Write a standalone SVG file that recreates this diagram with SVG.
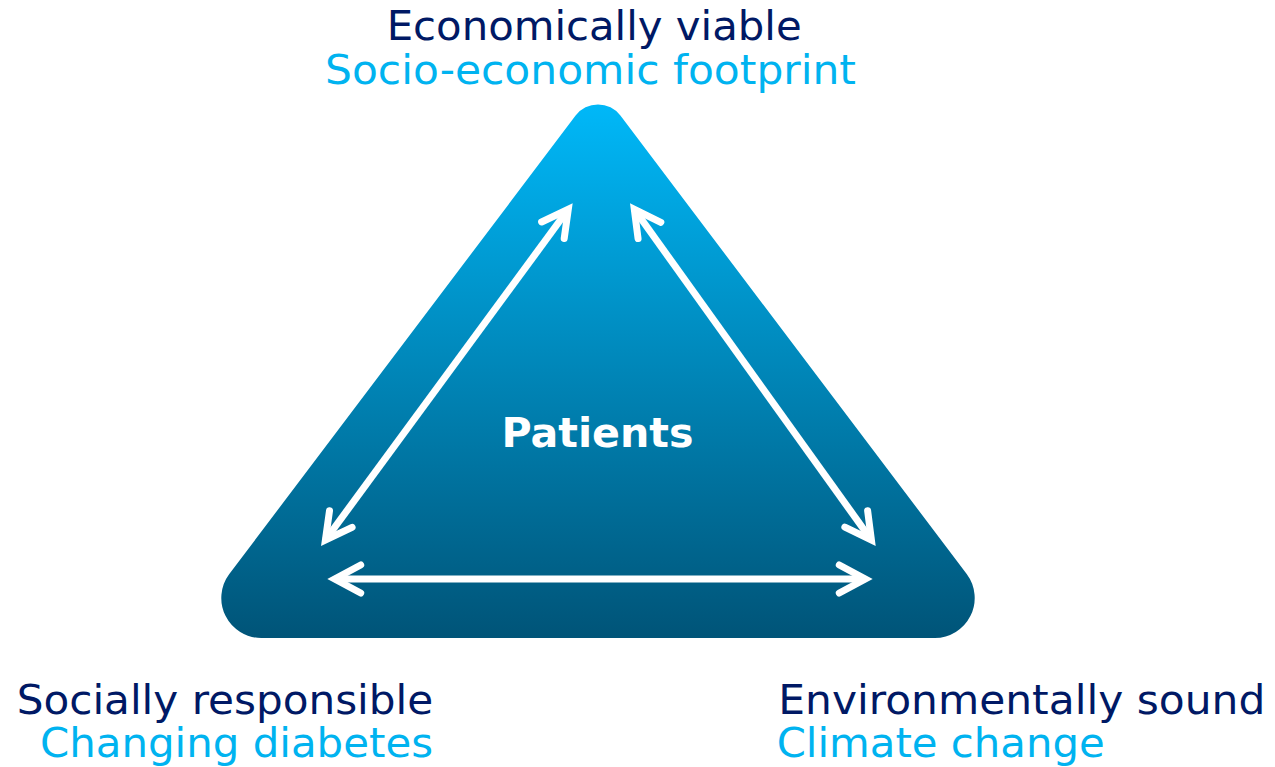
<svg xmlns="http://www.w3.org/2000/svg" width="1275" height="767" viewBox="0 0 1275 767">
<style>
.t{font-family:"DejaVu Sans",Verdana,sans-serif;font-size:40px}
.dark{fill:#001965}
.light{fill:#00B3F0}
.arrow{stroke:#FFFFFF;stroke-width:7;fill:none}
.lbl{font-family:"DejaVu Sans",Verdana,sans-serif;font-size:40px;font-weight:bold;fill:#FFFFFF}
</style>
<defs>
<linearGradient id="tri" x1="0" y1="104" x2="0" y2="638" gradientUnits="userSpaceOnUse">
<stop offset="0" stop-color="#00B8F8"/>
<stop offset="1" stop-color="#005478"/>
</linearGradient>
<marker id="head" markerUnits="userSpaceOnUse" viewBox="-40 -25 55 50" markerWidth="55" markerHeight="50" refX="0" refY="0" orient="auto-start-reverse" overflow="visible">
<path d="M -26 -14 L 0 0 L -26 14" stroke="#FFFFFF" stroke-width="7" fill="none" stroke-linecap="round" stroke-linejoin="miter"/>
</marker>
</defs>
<g id="triangle">
<path d="M 261.2 638 L 934.8 638 A 40 40 0 0 0 966.7 574 L 620.4 115.6 A 28 28 0 0 0 575.6 115.6 L 229.3 574 A 40 40 0 0 0 261.2 638 Z" fill="url(#tri)"/>
<text class="lbl" x="597.5" y="446.5" text-anchor="middle" textLength="192" lengthAdjust="spacingAndGlyphs">Patients</text>
</g>
<g id="connectors">
<line class="arrow" x1="325.4" y1="540" x2="568.3" y2="209.3" marker-start="url(#head)" marker-end="url(#head)"/>
<line class="arrow" x1="634.3" y1="209.3" x2="871.4" y2="540" marker-start="url(#head)" marker-end="url(#head)"/>
<line class="arrow" x1="334.7" y1="579" x2="865.3" y2="579" marker-start="url(#head)" marker-end="url(#head)"/>
</g>
<g id="top-label">
<text class="t dark" x="386.7" y="39.5" textLength="415" lengthAdjust="spacingAndGlyphs">Economically viable</text>
<text class="t light" x="325" y="84" textLength="531" lengthAdjust="spacingAndGlyphs">Socio-economic footprint</text>
</g>
<g id="left-label">
<text class="t dark" x="16.7" y="714" textLength="416.5" lengthAdjust="spacingAndGlyphs">Socially responsible</text>
<text class="t light" x="40" y="757" textLength="393" lengthAdjust="spacingAndGlyphs">Changing diabetes</text>
</g>
<g id="right-label">
<text class="t dark" x="778.3" y="714" textLength="487" lengthAdjust="spacingAndGlyphs">Environmentally sound</text>
<text class="t light" x="776.7" y="757" textLength="328" lengthAdjust="spacingAndGlyphs">Climate change</text>
</g>
</svg>
